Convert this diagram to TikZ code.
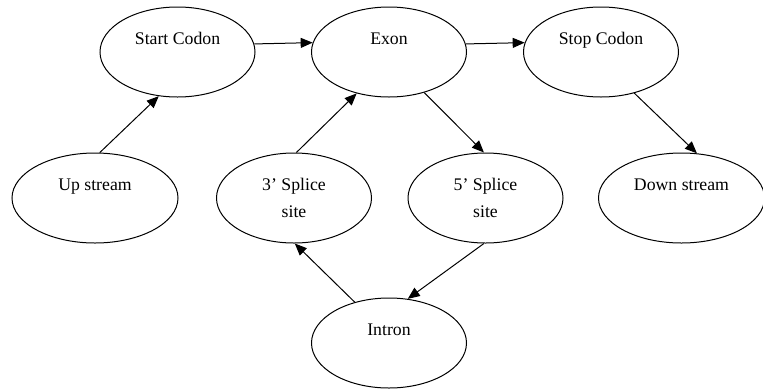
\documentclass[tikz,border=0pt]{standalone}
\usepackage{fontspec}
\setmainfont{Liberation Serif}
\usetikzlibrary{shapes.geometric,arrows.meta}

\tikzset{every picture/.style={line width=0.75pt}}
\tikzset{
  genepart/.style={draw, ellipse, minimum width=116.25pt, minimum height=67.5pt, inner sep=0pt, align=center, font=\fontsize{13.3}{20.25}\selectfont},
  wide genepart/.style={genepart, minimum width=124.5pt},
  flow/.style={-{Triangle[length=9pt,width=7.5pt]}}
}

\begin{document}
\begin{tikzpicture}[x=0.75pt,y=0.75pt,yscale=-1,xscale=1]
\useasboundingbox (0,0) rectangle (763,390);

%Shape: Ellipse
\draw (177.5,52) node [genepart] (start) {Start Codon\\\mbox{}};
%Shape: Ellipse
\draw (389,52) node [genepart] (exon) {Exon\\\mbox{}};
%Shape: Ellipse
\draw (601,52) node [genepart] (stop) {Stop Codon\\\mbox{}};
%Shape: Ellipse
\draw (95,198) node [wide genepart] (up) {Up stream\\\mbox{}};
%Shape: Ellipse
\draw (294,198) node [genepart] (three) {3’ Splice\\site};
%Shape: Ellipse
\draw (485.5,198) node [genepart] (five) {5’ Splice\\site};
%Shape: Ellipse
\draw (681.5,198) node [wide genepart] (down) {Down stream\\\mbox{}};
%Shape: Ellipse
\draw (389,343) node [genepart] (intron) {Intron\\\mbox{}};

%Straight Lines
\draw [flow] (start.6.8) -- (exon.173.2);
\draw [flow] (exon.6.8) -- (stop.173.2);
\draw [flow] (up.84) -- (start.247);
\draw [flow] (three.87.5) -- (exon.232);
\draw [flow] (exon.311) -- (five.92);
\draw [flow] (stop.309.4) -- (down.71);
\draw [flow] (five.268) -- (intron.67);
\draw [flow] (intron.130) -- (three.271);

\end{tikzpicture}
\end{document}
